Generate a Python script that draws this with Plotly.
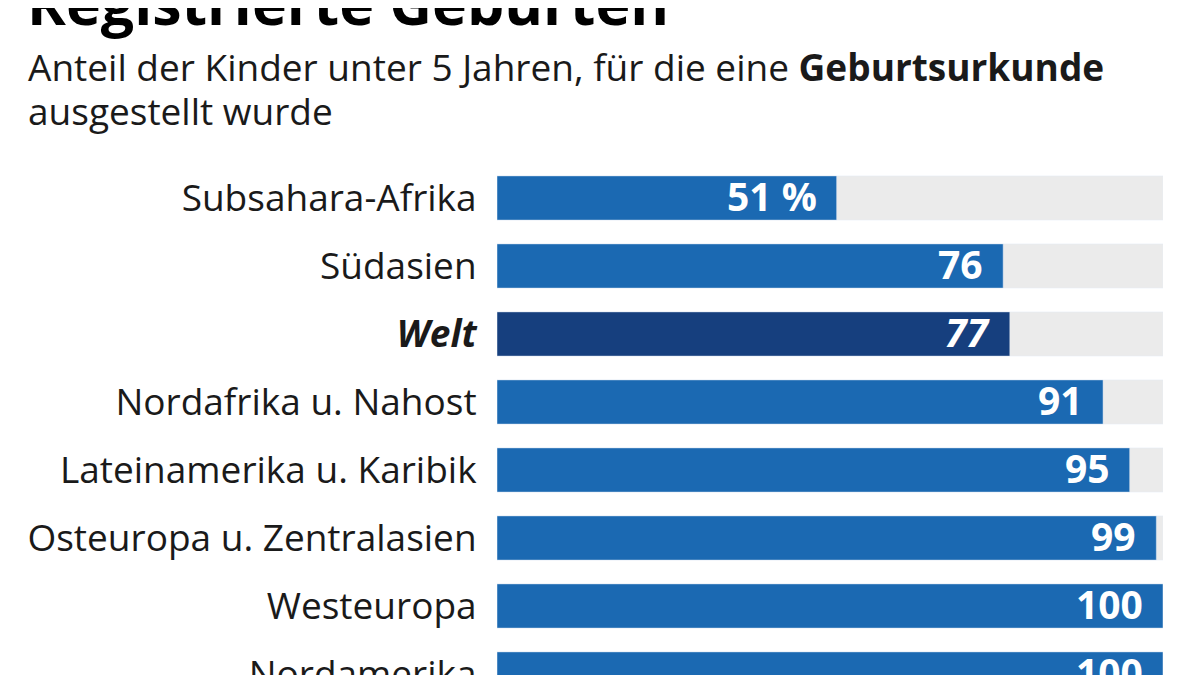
import plotly.graph_objects as go

# Data
regions = ['Subsahara-Afrika', 'Südasien', 'Welt', 'Nordafrika u. Nahost',
           'Lateinamerika u. Karibik', 'Osteuropa u. Zentralasien',
           'Westeuropa', 'Nordamerika']
shares = [51, 76, 77, 91, 95, 99, 100, 100]
full = [100] * len(regions)
highlight = 'Welt'

blue = '#1b69b2'
dark_blue = '#163f7e'
track = '#ebebeb'
font = 'Open Sans'

# page has an 8px body margin, so the figure is a bit smaller than the window
W, H = 1192, 667
L, R, T, B = 489, 37, 142, 0
PW, PH = W - L - R, H - T - B


def px(fx):
    # figure pixel column -> paper x
    return (fx - L) / PW


def py(fy):
    # figure pixel row (from top) -> paper y
    return (H - B - fy) / PH


colors = [dark_blue if r == highlight else blue for r in regions]
ticktext = ['<b><i>%s</i></b>' % r if r == highlight else r for r in regions]
vlabels = []
for i, (r, v) in enumerate(zip(regions, shares)):
    s = '%d %%' % v if i == 0 else str(v)
    if r == highlight:
        s = '<i>%s</i>' % s
    vlabels.append('<b>%s</b>' % s)

fig = go.Figure()
fig.add_trace(go.Bar(y=regions, x=full, orientation='h', marker_color=track,
                     width=0.65, hoverinfo='skip', showlegend=False))
fig.add_trace(go.Bar(y=regions, x=shares, orientation='h', marker_color=colors,
                     width=0.65, showlegend=False))

for r, v, lab in zip(regions, shares, vlabels):
    fig.add_annotation(x=v, y=r, text=lab, showarrow=False, xanchor='right',
                       xshift=-18, yshift=3,
                       font=dict(family=font, size=39, color='white'))

fig.add_annotation(xref='paper', yref='paper', x=px(17), y=py(-6),
                   xanchor='left', yanchor='middle', showarrow=False,
                   text='<b>Registrierte Geburten</b>',
                   font=dict(family=font, size=59, color='black'))
fig.add_annotation(xref='paper', yref='paper', x=px(18), y=py(58),
                   xanchor='left', yanchor='middle', showarrow=False,
                   text='Anteil der Kinder unter 5 Jahren, für die eine <b>Geburtsurkunde</b>',
                   font=dict(family=font, size=37, color='#1a1a1a'))
fig.add_annotation(xref='paper', yref='paper', x=px(18), y=py(102),
                   xanchor='left', yanchor='middle', showarrow=False,
                   text='ausgestellt wurde',
                   font=dict(family=font, size=37, color='#1a1a1a'))

fig.update_layout(
    width=W, height=H,
    margin=dict(l=L, r=R, t=T, b=B, autoexpand=False),
    barmode='overlay',
    plot_bgcolor='white', paper_bgcolor='white',
    xaxis=dict(range=[0, 100], visible=False, fixedrange=True),
    yaxis=dict(categoryorder='array', categoryarray=regions,
               range=[(667 - 190) / 68, (142 - 190) / 68],
               tickvals=regions, ticktext=ticktext, automargin=False,
               ticks='outside', ticklen=12, tickcolor='rgba(0,0,0,0)',
               showgrid=False, zeroline=False, showline=False,
               tickfont=dict(family=font, size=37, color='#1a1a1a'),
               fixedrange=True),
)

fig.write_html('out.html')
